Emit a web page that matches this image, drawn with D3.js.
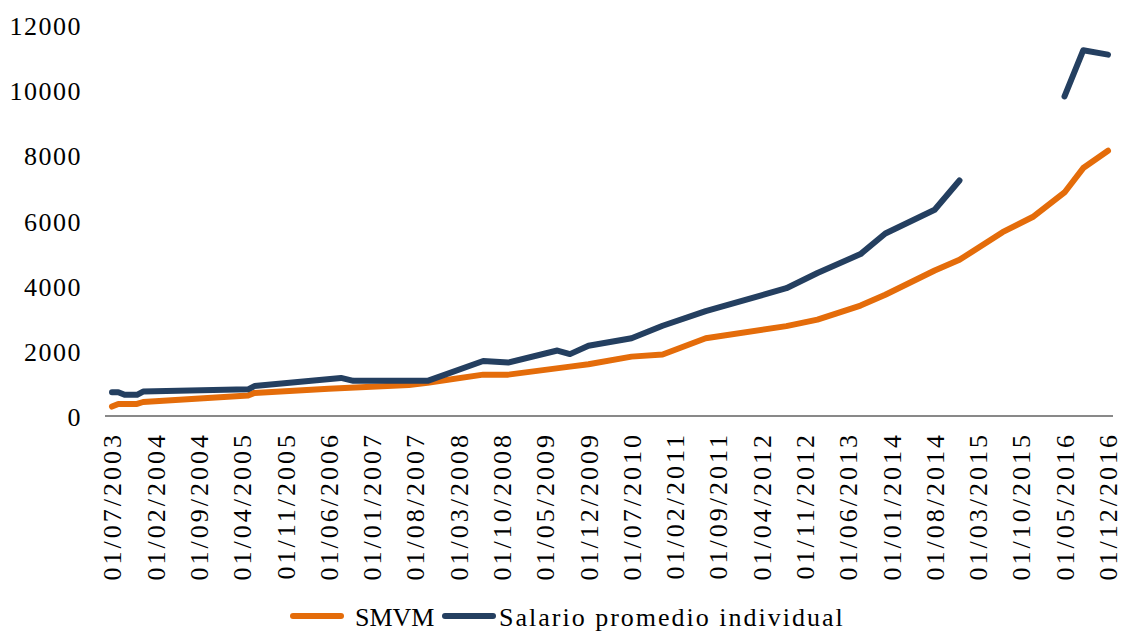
<!DOCTYPE html>
<html>
<head>
<meta charset="utf-8">
<script src="https://cdn.jsdelivr.net/npm/d3@7"></script>
<style>
  html, body { margin: 0; padding: 0; background: #ffffff; }
  svg { display: block; }
  text { font-family: "Liberation Serif", "DejaVu Serif", serif; fill: #000; }
</style>
</head>
<body>
<svg id="chart" width="1121" height="631"></svg>
<script>
// ---- Data ----
const tickLabels = ["01/07/2003","01/02/2004","01/09/2004","01/04/2005","01/11/2005","01/06/2006",
  "01/01/2007","01/08/2007","01/03/2008","01/10/2008","01/05/2009","01/12/2009","01/07/2010",
  "01/02/2011","01/09/2011","01/04/2012","01/11/2012","01/06/2013","01/01/2014","01/08/2014",
  "01/03/2015","01/10/2015","01/05/2016","01/12/2016"];

const yTicks = [0, 2000, 4000, 6000, 8000, 10000, 12000];

const smvmDates = ["2003-07","2003-08","2003-11","2003-12","2005-05","2005-06","2006-06","2007-07",
  "2007-10","2008-07","2008-11","2009-09","2009-12","2010-07","2010-12","2011-07","2012-08",
  "2013-01","2013-08","2013-12","2014-08","2014-12","2015-07","2015-12","2016-05","2016-08","2016-12"];
const smvmValues = [320,400,400,460,660,740,870,985,1050,1300,1300,1546,1620,1853,1920,2417,2790,
  2990,3420,3750,4495,4823,5673,6154,6891,7640,8172];

const salarioDates = ["2003-07","2003-08","2003-09","2003-11","2003-12","2005-05","2005-06","2006-08",
  "2006-10","2007-10","2008-07","2008-11","2009-07","2009-09","2009-12","2010-07","2010-12",
  "2011-07","2012-08","2013-01","2013-08","2013-12","2014-08","2014-12","2015-06","2016-05",
  "2016-08","2016-12"];
const salarioValues = [760,760,680,680,780,850,950,1200,1110,1110,1720,1670,2040,1930,2185,2417,
  2800,3250,3953,4420,5000,5630,6359,7260,null,9840,11254,11121];

const seriesNames = ["SMVM", "Salario promedio individual"];
const seriesColors = ["#E46C0A", "#243F60"];

// ---- Build ----
const parseMonth = d3.timeParse("%Y-%m");
const parseLabel = d3.timeParse("%d/%m/%Y");
const svg = d3.select("#chart");

const x = d3.scaleTime()
  .domain([parseMonth("2003-07"), parseMonth("2016-12")])
  .range([112, 1108]);
const y = d3.scaleLinear().domain([0, 12000]).range([417, 26]);

// y labels
svg.append("g").selectAll("text").data(yTicks).join("text")
  .attr("x", 82).attr("y", d => y(d)).attr("dy", "0.35em")
  .attr("text-anchor", "end")
  .style("font-size", "26px").style("letter-spacing", "1.5px")
  .text(d => d);

// x axis line
svg.append("line")
  .attr("x1", 105).attr("x2", 1113).attr("y1", 416).attr("y2", 416)
  .attr("stroke", "#898989").attr("stroke-width", 2);

// x labels (rotated)
svg.append("g").selectAll("text").data(tickLabels).join("text")
  .attr("transform", d => `translate(${x(parseLabel(d))},432) rotate(-90)`)
  .attr("text-anchor", "end").attr("dy", "0.35em")
  .style("font-size", "26px").style("letter-spacing", "3px")
  .text(d => d);

const smvm = smvmDates.map((d, i) => ({ date: parseMonth(d), value: smvmValues[i] }));
const salario = salarioDates.map((d, i) => ({ date: parseMonth(d), value: salarioValues[i] }));

const line = d3.line()
  .defined(d => d.value !== null)
  .x(d => x(d.date)).y(d => y(d.value));

[smvm, salario].forEach((s, i) => {
  svg.append("path").datum(s)
    .attr("d", line)
    .attr("fill", "none")
    .attr("stroke", seriesColors[i])
    .attr("stroke-width", 6)
    .attr("stroke-linejoin", "round")
    .attr("stroke-linecap", "round");
});

// legend
const legendX = [293, 445];
const legendTextX = [355, 499];
const legend = svg.append("g");
seriesNames.forEach((name, i) => {
  legend.append("line")
    .attr("x1", legendX[i]).attr("x2", legendX[i] + 48)
    .attr("y1", 616).attr("y2", 616)
    .attr("stroke", seriesColors[i]).attr("stroke-width", 6)
    .attr("stroke-linecap", "round");
  legend.append("text")
    .attr("x", legendTextX[i]).attr("y", 626)
    .style("font-size", "26px").style("letter-spacing", i === 0 ? "0px" : "2px")
    .text(name);
});
</script>
</body>
</html>
